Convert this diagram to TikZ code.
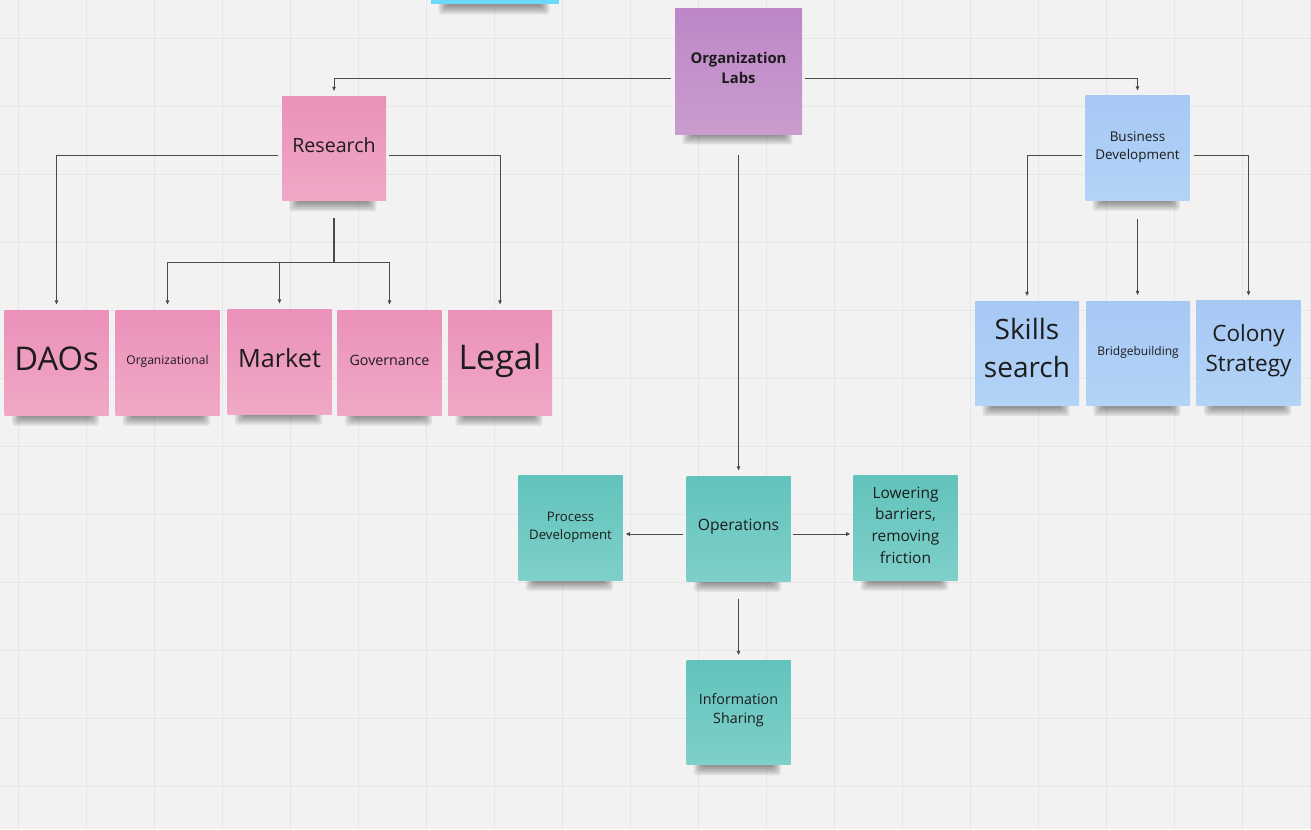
\documentclass[tikz,border=0pt]{standalone}
\usepackage{fontspec}
\setmainfont{Open Sans}
\usepackage{xcolor}
\usetikzlibrary{arrows.meta,calc}

\definecolor{board}{HTML}{F2F2F2}
\definecolor{gridgrey}{HTML}{E6E6E6}
\definecolor{linegrey}{HTML}{4A4A4A}
\definecolor{notetext}{HTML}{1C1C1C}
\definecolor{pinktop}{HTML}{EB91BA}
\definecolor{pinkbot}{HTML}{F0A8C6}
\definecolor{purpletop}{HTML}{BE86C8}
\definecolor{purplebot}{HTML}{C99CCF}
\definecolor{bluetop}{HTML}{A6C8F3}
\definecolor{bluebot}{HTML}{B3D3F7}
\definecolor{tealtop}{HTML}{62C3BC}
\definecolor{tealbot}{HTML}{7ED0C9}
\definecolor{cyannote}{HTML}{6CD8FA}

\pgfdeclarelayer{boardlayer}
\pgfdeclarelayer{shadowlayer}
\pgfsetlayers{boardlayer,shadowlayer,main}

\tikzset{
	note/.style={rectangle, inner sep=0pt, minimum width=78pt, minimum height=78.5pt},
	pinknote/.style={note, top color=pinktop, bottom color=pinkbot},
	bluenote/.style={note, top color=bluetop, bottom color=bluebot},
	tealnote/.style={note, top color=tealtop, bottom color=tealbot},
	labsnote/.style={note, top color=purpletop, bottom color=purplebot,
		minimum width=95.25pt, minimum height=94.5pt},
	notelabel/.style={align=center, text=notetext, inner sep=0pt, yshift=#1},
	notelabel/.default=2.25pt,
	conn/.style={->, draw=linegrey, line width=0.75pt},
	gridline/.style={draw=gridgrey, line width=0.75pt}
}
\newcommand{\fsz}[2]{\fontsize{#1}{#2}\selectfont}

\begin{document}
\begin{tikzpicture}[x=0.75pt,y=-0.75pt,>={Triangle[length=3pt,width=2.6pt]}]
	\useasboundingbox (0,0) rectangle (1311,829);
	\clip (0,0) rectangle (1311,829);
	\begin{pgfonlayer}{boardlayer}
		\fill[board] (0,0) rectangle (1311,829);
		% board grid
		\foreach \gx in {0,...,19} \draw[gridline] (18+68*\gx,0) -- (18+68*\gx,829);
		\foreach \gy in {0,...,11} \draw[gridline] (0,38+68*\gy) -- (1311,38+68*\gy);
	\end{pgfonlayer}

	\node[note, fill=cyannote, minimum width=96pt, minimum height=66pt] (topnote) at (495,-40) {};

	\node[labsnote, label={[notelabel, font=\bfseries\fsz{11.1}{14.6}]center:{Organization\\Labs}}] (labs) at (738.5,71) {};

	% research branch
	\node[pinknote, label={[notelabel, font=\fsz{14.7}{18}]center:Research}] (research) at (334,148.5) {};
	\node[pinknote, label={[notelabel=3pt, font=\fsz{24.5}{28}]center:DAOs}] (daos) at (56.5,363) {};
	\node[pinknote, label={[notelabel=1.5pt, font=\fsz{9.05}{12}]center:Organizational}] (orgz) at (167.5,363) {};
	\node[pinknote, label={[notelabel=3pt, font=\fsz{18.9}{22}]center:Market}] (market) at (279.5,362) {};
	\node[pinknote, label={[notelabel, font=\fsz{10.7}{13}]center:Governance}] (gov) at (389.5,363) {};
	\node[pinknote, label={[notelabel=1.5pt, font=\fsz{25.5}{30}]center:Legal}] (legal) at (500,363) {};

	% business development branch
	\node[bluenote, label={[notelabel=0.75pt, font=\fsz{10.1}{13.5}]center:{Business\\Development}}] (bizdev) at (1137.5,148) {};
	\node[bluenote, label={[notelabel=4.1pt, font=\fsz{21}{28}]center:{Skills\\search}}] (skills) at (1027,353.5) {};
	\node[bluenote, label={[notelabel=0.75pt, font=\fsz{9}{12}]center:Bridgebuilding}] (bridge) at (1138,353.5) {};
	\node[bluenote, label={[notelabel=1.5pt, font=\fsz{16.9}{22.5}]center:{Colony\\Strategy}}] (colony) at (1248.5,353) {};

	% operations branch
	\node[tealnote, label={[notelabel=1.5pt, font=\fsz{11.7}{16}]center:Operations}] (ops) at (738.5,529) {};
	\node[tealnote, label={[notelabel=0.75pt, font=\fsz{9.9}{13.5}]center:{Process\\Development}}] (procdev) at (570.5,528) {};
	\node[tealnote, label={[notelabel, font=\fsz{11.6}{16.3}]center:{Lowering\\barriers,\\removing\\friction}}] (lowering) at (905.5,528) {};
	\node[tealnote, label={[notelabel=1.5pt, font=\fsz{10.7}{14.3}]center:{Information\\Sharing}}] (infoshare) at (738.5,712.5) {};

	% soft shadows under the notes
	\begin{pgfonlayer}{shadowlayer}
		\foreach \n in {topnote,labs,research,daos,orgz,market,gov,legal,bizdev,skills,bridge,colony,ops,procdev,lowering,infoshare}
			\foreach \k in {0,...,4}
				\fill[black, opacity=0.09, rounded corners=2pt]
					($(\n.south west)+(8+2*\k,-4)$) rectangle ($(\n.south east)+(-10-2*\k,10-2*\k)$);
	\end{pgfonlayer}

	% connectors
	\draw[conn] ($(labs.west)+(-4,7)$) -| ($(research.north)+(0,-5)$);
	\draw[conn] ($(labs.east)+(3,7)$) -| ($(bizdev.north)+(0,-5)$);
	\draw[conn] ($(labs.south)+(0,21)$) -- ($(ops.north)+(0,-6)$);

	\draw[conn] ($(research.west)+(-4,6.5)$) -| ($(daos.north)+(0,-6)$);
	\draw[conn] ($(research.east)+(3,6.5)$) -| ($(legal.north)+(0,-6)$);
	\coordinate (rsplit) at ($(research.south)+(0,61)$);
	\draw[draw=linegrey, line width=1.1pt] ($(research.south)+(0,17)$) -- (rsplit);
	\foreach \t in {orgz,market,gov}
		\draw[conn] (rsplit) -| ($(\t.north)+(0,-6)$);

	\draw[conn] ($(bizdev.west)+(-3,7)$) -| ($(skills.north)+(0,-5)$);
	\draw[conn] ($(bizdev.east)+(4,7)$) -| ($(colony.north)+(0,-5)$);
	\draw[conn] ($(bizdev.south)+(0,18)$) -- ($(bizdev.south |- bridge.north)+(0,-6)$);

	\draw[conn] ($(ops.west)+(-3,5)$) -- ($(procdev.east)+(3,6)$);
	\draw[conn] ($(ops.east)+(2,5)$) -- ($(lowering.west)+(-3,6)$);
	\draw[conn] ($(ops.south)+(0,17)$) -- ($(infoshare.north)+(0,-5)$);
\end{tikzpicture}
\end{document}
